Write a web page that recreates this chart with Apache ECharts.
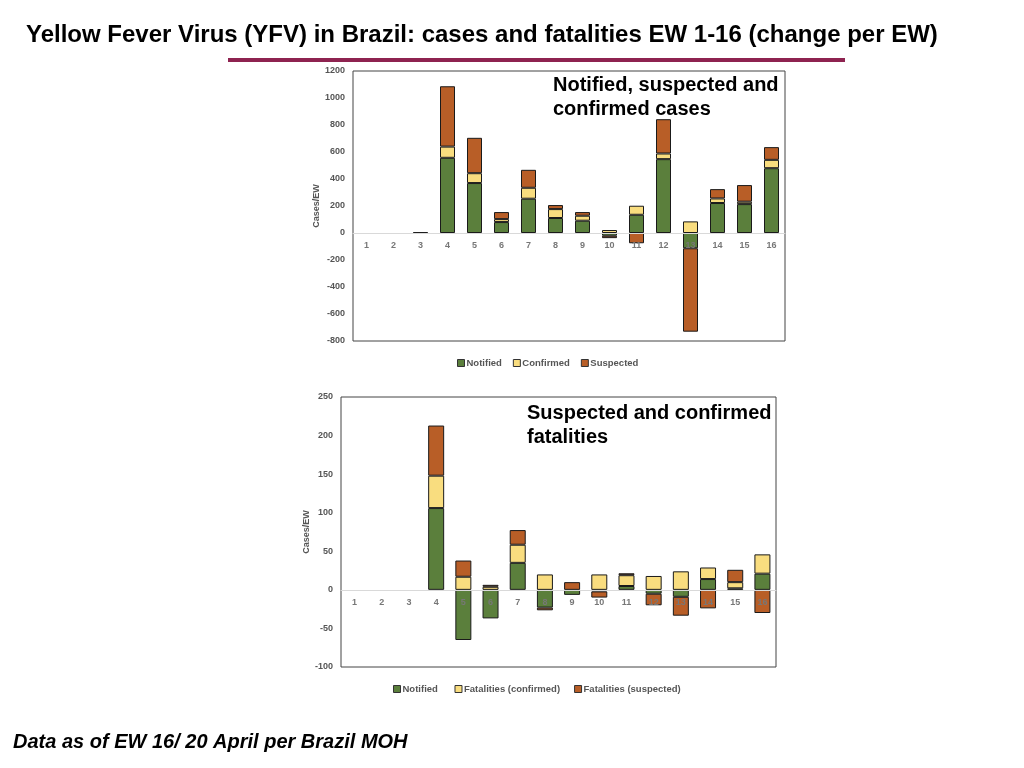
<!DOCTYPE html>
<html>
<head>
<meta charset="utf-8">
<style>
  body, html { margin: 0; padding: 0; width: 100%; height: 100%; overflow: hidden; background: #fff; }
  #chart { width: 1024px; height: 768px; }
</style>
</head>
<body>
<div id="chart"></div>
<script src="https://cdn.jsdelivr.net/npm/echarts@6/dist/echarts.min.js"></script>
<script>
  // epidemiological weeks
  const weeks = ["1","2","3","4","5","6","7","8","9","10","11","12","13","14","15","16"];

  // top: change per EW in cases (null = no bar drawn)
  const casesNotified  = [null, null, 5, 557, 370, 81, 254, 111, 91, -20, 135, 547, -113, 222, 214, 480];
  const casesConfirmed = [null, null, null, 83, 73, 22, 81, 66, 37, 22, 67, 42, 86, 34, 18, 62];
  const casesSuspected = [null, null, null, 447, 262, 52, 133, 30, 27, -18, -76, 254, -618, 69, 123, 94];

  // bottom: change per EW in fatalities
  const fatNotified  = [null, null, null, 106, -65, -37, 35, -23, -6.5, -2, 5, -5, -9, 14, 2, 21];
  const fatConfirmed = [null, null, null, 42, 17, 4, 23.5, 20, null, 20, 14, 18, 24, 15, 8, 25];
  const fatSuspected = [null, null, null, 65, 21, 2.5, 19, -3.5, 10, -8, 2.5, -15, -24.5, -24, 16, -30];

  const GREEN = "#5b7f3c";
  const YELLOW = "#f9dd7f";
  const ORANGE = "#b85e27";
  const FONT = "Liberation Sans";

  const chart = echarts.init(document.getElementById("chart"));

  const barSeries = (name, data, color, idx, stack, width) => ({
    name: name,
    type: "bar",
    stack: stack,
    xAxisIndex: idx,
    yAxisIndex: idx,
    data: data,
    barWidth: width,
    itemStyle: { color: color, borderColor: "#1a1a1a", borderWidth: 1 },
    emphasis: { disabled: true },
  });

  // labels sit on the zero line, so push the axis up from the grid bottom;
  // own zlevel so the week numbers show on top of the bars
  const xAxisBase = (idx, offset) => ({
    type: "category",
    gridIndex: idx,
    data: weeks,
    zlevel: 1,
    offset: offset,
    axisLine: { onZero: false, lineStyle: { color: "#d9d9d9", width: 1 } },
    axisTick: { show: false },
    axisLabel: { color: "#777", fontFamily: FONT, fontWeight: "bold", fontSize: 9, margin: 8 },
  });

  const yAxisBase = (idx, min, max, interval) => ({
    type: "value",
    gridIndex: idx,
    min: min,
    max: max,
    interval: interval,
    name: "Cases/EW",
    nameLocation: "middle",
    nameRotate: 90,
    nameGap: 30,
    nameTextStyle: { color: "#555", fontFamily: FONT, fontWeight: "bold", fontSize: 9 },
    axisLine: { show: false },
    axisTick: { show: false },
    splitLine: { show: false },
    axisLabel: {
      color: "#555", fontFamily: FONT, fontWeight: "bold", fontSize: 9, margin: 8,
      formatter: (v) => String(v),
    },
  });

  const legendText = { color: "#555", fontFamily: FONT, fontWeight: "bold", fontSize: 9.5, padding: [0, 0, 0, -3] };

  const option = {
    animation: false,
    textStyle: { fontFamily: FONT },
    title: [
      {
        text: "Yellow Fever Virus (YFV) in Brazil: cases and fatalities EW 1-16 (change per EW)",
        left: 26, top: 23, padding: 0,
        textStyle: { fontFamily: FONT, fontWeight: "bold", fontSize: 24, color: "#000" },
      },
      {
        text: "Notified, suspected and\nconfirmed cases",
        left: 553, top: 73, padding: 0,
        textStyle: { fontFamily: FONT, fontWeight: "bold", fontSize: 20, color: "#000", lineHeight: 24 },
      },
      {
        text: "Suspected and confirmed\nfatalities",
        left: 527, top: 401, padding: 0,
        textStyle: { fontFamily: FONT, fontWeight: "bold", fontSize: 20, color: "#000", lineHeight: 24 },
      },
      {
        text: "Data as of EW 16/ 20 April per Brazil MOH",
        left: 13, top: 732, padding: 0,
        textStyle: { fontFamily: FONT, fontWeight: "bold", fontStyle: "italic", fontSize: 20, color: "#000" },
      },
    ],
    graphic: [
      {
        type: "rect",
        shape: { x: 228, y: 58, width: 617, height: 4 },
        style: { fill: "#8e2350" },
      },
    ],
    legend: [
      {
        data: ["Notified", "Confirmed", "Suspected"],
        left: 452, top: 353,
        itemWidth: 7, itemHeight: 7, itemGap: 11,
        icon: "rect",
        itemStyle: { borderColor: "#333", borderWidth: 1 },
        textStyle: legendText,
        selectedMode: false,
      },
      {
        data: ["Notified ", "Fatalities (confirmed)", "Fatalities (suspected)"],
        left: 388, top: 679,
        itemWidth: 7, itemHeight: 7, itemGap: 14,
        icon: "rect",
        itemStyle: { borderColor: "#333", borderWidth: 1 },
        textStyle: legendText,
        selectedMode: false,
      },
    ],
    grid: [
      { left: 353, top: 71, width: 432, height: 270, show: true, borderColor: "#444", borderWidth: 1, backgroundColor: "transparent" },
      { left: 341, top: 397, width: 435, height: 270, show: true, borderColor: "#444", borderWidth: 1, backgroundColor: "transparent" },
    ],
    xAxis: [xAxisBase(0, -108), xAxisBase(1, -77.14)],
    yAxis: [yAxisBase(0, -800, 1200, 200), yAxisBase(1, -100, 250, 50)],
    series: [
      barSeries("Notified", casesNotified, GREEN, 0, "cases", 15),
      barSeries("Confirmed", casesConfirmed, YELLOW, 0, "cases", 15),
      barSeries("Suspected", casesSuspected, ORANGE, 0, "cases", 15),
      barSeries("Notified ", fatNotified, GREEN, 1, "fat", 16),
      barSeries("Fatalities (confirmed)", fatConfirmed, YELLOW, 1, "fat", 16),
      barSeries("Fatalities (suspected)", fatSuspected, ORANGE, 1, "fat", 16),
    ],
  };

  chart.setOption(option);
</script>
</body>
</html>
